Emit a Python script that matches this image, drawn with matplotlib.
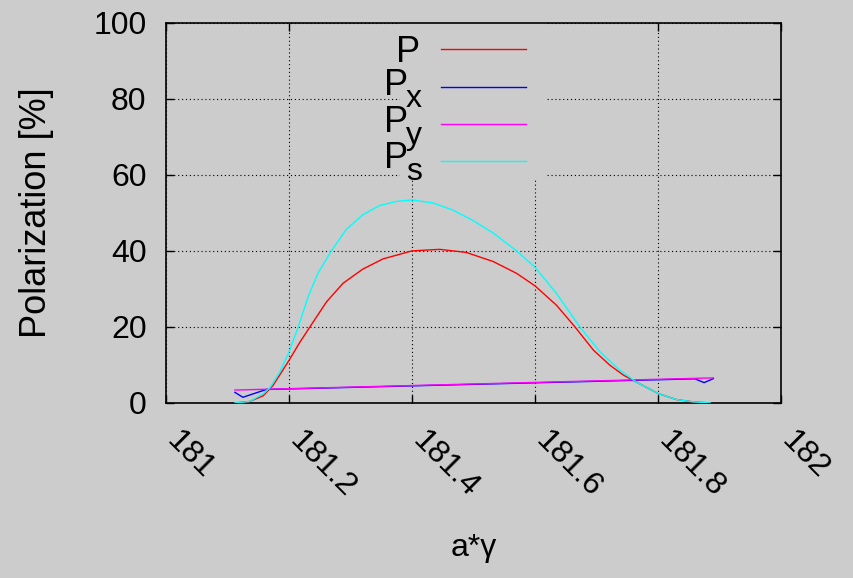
import matplotlib
matplotlib.use("Agg")
import matplotlib.pyplot as plt
import matplotlib.transforms as mtransforms
from matplotlib.patches import Rectangle

plt.rcParams["font.family"] = ["Liberation Sans", "DejaVu Sans"]

# curves
x_s = [181.112, 181.136, 181.158, 181.169, 181.185, 181.2, 181.215, 181.231,
       181.247, 181.269, 181.293, 181.32, 181.347, 181.375, 181.4, 181.434,
       181.467, 181.499, 181.532, 181.57, 181.6, 181.635, 181.673, 181.706,
       181.738, 181.765, 181.8, 181.83, 181.857, 181.885]
p_s = [0, 0.4, 2.4, 4.0, 8.1, 13.4, 20.0, 27.9, 34.1, 40.0, 45.6, 49.5, 51.9,
       53.0, 53.4, 52.6, 50.7, 48.0, 44.7, 40.0, 35.7, 28.8, 20.0, 13.4, 8.6,
       5.5, 2.5, 0.9, 0.3, 0]

x_p = [181.112, 181.136, 181.158, 181.174, 181.2, 181.217, 181.234, 181.261,
       181.288, 181.32, 181.353, 181.38, 181.4, 181.445, 181.488, 181.532,
       181.57, 181.6, 181.635, 181.665, 181.695, 181.722, 181.744, 181.765,
       181.8, 181.83, 181.857, 181.885]
p_total = [0, 0.4, 1.9, 4.6, 11.2, 15.8, 20.0, 26.6, 31.5, 35.2, 37.9, 39.1,
           40.0, 40.4, 39.6, 37.2, 34.1, 30.8, 25.7, 20.0, 13.9, 9.9, 7.3,
           5.5, 2.5, 0.9, 0.3, 0]

x_px = [181.112, 181.125, 181.163, 181.86, 181.875, 181.89]
p_x = [2.8, 1.5, 3.55, 6.35, 5.35, 6.4]

x_py = [181.112, 181.89]
p_y = [3.4, 6.6]

x_ticks = [181, 181.2, 181.4, 181.6, 181.8, 182]
x_ticklabels = ["181", "181.2", "181.4", "181.6", "181.8", "182"]
y_ticks = [0, 20, 40, 60, 80, 100]

bg = "#cccccc"
fig = plt.figure(figsize=(8.54, 5.78), dpi=100, facecolor=bg)
ax = fig.add_axes([0.1944, 0.3028, 0.7201, 0.6579], facecolor=bg)

# (x, y, colour, main text, subscript)
series = [
    (x_p, p_total, "#ff0000", "P", ""),
    (x_px, p_x, "#0000ff", "P", "x"),
    (x_py, p_y, "#ff00ff", "P", "y"),
    (x_s, p_s, "#00ffff", "P", "s"),
]
for xs, ys, c, txt, sub in series:
    ax.plot(xs, ys, color=c, lw=1.0, zorder=3)

ax.set_xlim(181, 182)
ax.set_ylim(0, 100)
ax.set_xticks(x_ticks)
ax.set_xticklabels(x_ticklabels, rotation=-45, ha="left", va="center",
                   rotation_mode="anchor")
ax.set_yticks(y_ticks)
ax.tick_params(direction="in", top=True, right=True, length=5.5, width=1.0,
               labelsize=23, colors="black")
ax.tick_params(axis="x", pad=24)
ax.tick_params(axis="y", pad=14)
shift = mtransforms.ScaledTranslation(5 / 100, 0, fig.dpi_scale_trans)
for lbl in ax.get_xticklabels():
    lbl.set_transform(lbl.get_transform() + shift)

ax.grid(True, color="black", linestyle=(0, (1, 2.5)), linewidth=0.8, zorder=1)
ax.set_axisbelow(True)
for s in ax.spines.values():
    s.set_linewidth(1.2)

ax.set_ylabel("Polarization [%]", fontsize=26, va="center")
ax.yaxis.set_label_coords(-0.211, 0.5)
ax.set_xlabel("a*γ", fontsize=23, va="center")
ax.xaxis.set_label_coords(0.5, -0.381)

# key, gnuplot style: text right-aligned, sample to the right
ax.add_patch(Rectangle((0.380, 0.592), 0.236, 0.408, transform=ax.transAxes,
                       facecolor=bg, edgecolor="none", zorder=2))
line_rows = [0.9305, 0.832, 0.734, 0.637]
base_rows = [0.897, 0.810, 0.713, 0.617]
for (xs, ys, c, txt, sub), ly, by in zip(series, line_rows, base_rows):
    if sub:
        ax.text(0.3935, by, txt, transform=ax.transAxes, ha="right",
                va="baseline", fontsize=26, zorder=4)
        ax.text(0.416, by - 0.0316, sub, transform=ax.transAxes, ha="right",
                va="baseline", fontsize=23, zorder=4)
    else:
        ax.text(0.413, by, txt, transform=ax.transAxes, ha="right",
                va="baseline", fontsize=26, zorder=4)
    ax.plot([0.447, 0.585], [ly, ly], transform=ax.transAxes, color=c,
            lw=1.0, zorder=4)

fig.savefig("out.png", dpi=100, facecolor=bg)
